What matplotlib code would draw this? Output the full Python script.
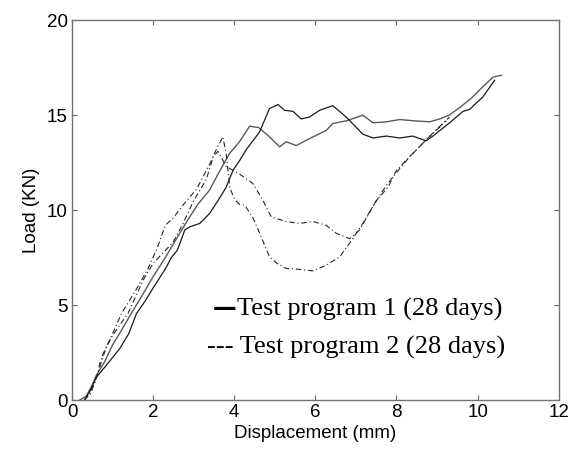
import matplotlib
matplotlib.use("Agg")
import matplotlib.pyplot as plt

# Test program 1 (solid curves)
s1_x = [0.19, 0.35, 0.5, 0.6, 0.8, 1.0, 1.2, 1.46, 1.7, 2.0, 2.3, 2.55, 2.8, 3.1,
        3.39, 3.6, 3.89, 4.13, 4.38, 4.6, 4.87, 5.12, 5.28, 5.53, 5.86, 6.27, 6.43, 6.76,
        7.17, 7.42, 7.75, 8.08, 8.45, 8.82, 9.06, 9.3, 9.56, 9.85, 10.13, 10.38, 10.58]
s1_y = [0.0, 0.2, 0.8, 1.3, 2.0, 2.9, 3.6, 4.56, 5.4, 6.5, 7.5, 8.4, 9.3, 10.3,
        11.05, 11.9, 13.0, 13.6, 14.42, 14.35, 13.86, 13.33, 13.6, 13.4, 13.77, 14.2, 14.56, 14.7,
        15.0, 14.6, 14.65, 14.77, 14.7, 14.65, 14.8, 15.0, 15.4, 15.9, 16.5, 17.0, 17.1]

s2_x = [0.31, 0.45, 0.6, 0.85, 1.18, 1.4, 1.59, 1.8, 2.0, 2.3, 2.45, 2.6, 2.78, 2.9,
        3.15, 3.39, 3.6, 3.8, 3.97, 4.13, 4.3, 4.62, 4.87, 5.08, 5.24, 5.45, 5.65, 5.85,
        6.11, 6.43, 6.76, 7.17, 7.42, 7.75, 8.08, 8.4, 8.73, 8.9, 9.31, 9.64, 9.8,
        10.13, 10.42]
s2_y = [0.0, 0.5, 1.2, 1.84, 2.72, 3.5, 4.56, 5.2, 5.9, 6.9, 7.5, 7.9, 8.95, 9.12,
        9.3, 9.82, 10.5, 11.2, 12.1, 12.6, 13.2, 14.1, 15.35, 15.56, 15.26, 15.2, 14.8, 14.9,
        15.26, 15.5, 14.9, 14.0, 13.8, 13.9, 13.8, 13.9, 13.65, 13.9, 14.6, 15.2, 15.3,
        15.96, 16.84]

# Test program 2 (dash-dot curves)
d1_x = [0.3, 0.45, 0.56, 0.64, 0.68, 0.76, 0.93, 1.22, 1.55, 1.87, 2.1, 2.3, 2.5,
        2.75, 3.07, 3.39, 3.56, 3.72, 3.8, 3.89, 4.0, 4.13, 4.26, 4.46, 4.63,
        4.87, 5.05, 5.28, 5.61, 5.94, 6.27, 6.6, 6.89, 7.17, 7.5, 7.79, 8.0, 8.41,
        8.73, 8.98, 9.23]
d1_y = [0.0, 0.3, 0.9, 1.4, 1.9, 2.4, 3.16, 4.56, 5.7, 6.9, 8.0, 9.2, 9.6,
        10.3, 11.1, 12.4, 13.2, 13.86, 12.98, 11.2, 10.6, 10.3, 10.26, 9.6, 8.77,
        7.54, 7.2, 6.93, 6.88, 6.8, 7.1, 7.54, 8.4, 9.3, 10.5, 11.2, 12.1, 13.0,
        13.7, 14.2, 14.7]

d2_x = [0.3, 0.45, 0.56, 0.64, 0.72, 0.85, 1.0, 1.38, 1.75, 2.0, 2.49, 2.74, 3.0,
        3.31, 3.48, 3.6, 3.8, 4.13, 4.46, 4.71, 4.91, 5.28, 5.61, 5.94, 6.27, 6.52,
        6.85, 7.09, 7.42, 7.67, 7.91, 8.32, 8.73, 9.06, 9.31]
d2_y = [0.0, 0.4, 0.95, 1.4, 2.0, 2.8, 3.4, 4.56, 6.3, 7.2, 8.3, 9.3, 10.5,
        11.6, 12.8, 13.1, 12.3, 11.9, 11.4, 10.5, 9.65, 9.4, 9.3, 9.4, 9.2, 8.77,
        8.5, 8.95, 10.2, 11.05, 11.75, 12.8, 13.7, 14.4, 14.9]

legend_marks = ["\u2014", "---"]
legend_labels = ["Test program 1 (28 days)", " Test program 2 (28 days)"]

fig = plt.figure(figsize=(5.76, 4.49), dpi=100)
ax = fig.add_axes([0.125, 0.109, 0.845, 0.846])

dashdot = (0, (5, 2.5, 1, 2.5))
ax.plot(s1_x, s1_y, color="0.35", lw=1.0)
ax.plot(s2_x, s2_y, color="0.1", lw=0.9)
ax.plot(d1_x, d1_y, color="0.15", lw=0.8, linestyle=dashdot)
ax.plot(d2_x, d2_y, color="0.15", lw=0.8, linestyle=dashdot)

ax.set_xlim(0, 12)
ax.set_ylim(0, 20)
ax.set_xticks(range(0, 13, 2))
ax.set_yticks(range(0, 21, 5))

sans = "Liberation Sans"
ax.tick_params(direction="in", top=True, right=True, length=3.5, width=0.8,
               color="0.4", labelsize=13.5, pad=3)
for lab in ax.get_xticklabels() + ax.get_yticklabels():
    lab.set_fontfamily(sans)
for sp in ax.spines.values():
    sp.set_color("0.45")
    sp.set_linewidth(1.0)

ax.set_xlabel("Displacement (mm)", fontsize=13.5, family=sans, labelpad=3)
ax.set_ylabel("Load (KN)", fontsize=13.5, family=sans, labelpad=5)

# legend written as text, the way the original figure does it
serif = "Liberation Serif"
ax.text(3.48, 4.47, legend_marks[0], family="DejaVu Sans", fontsize=17,
        fontweight="bold", va="baseline")
ax.text(4.08, 4.47, legend_labels[0], family=serif, fontsize=19, va="baseline")
ax.text(3.34, 2.47, legend_marks[1] + legend_labels[1], family=serif, fontsize=19,
        va="baseline")

fig.savefig("out.png", dpi=100)
